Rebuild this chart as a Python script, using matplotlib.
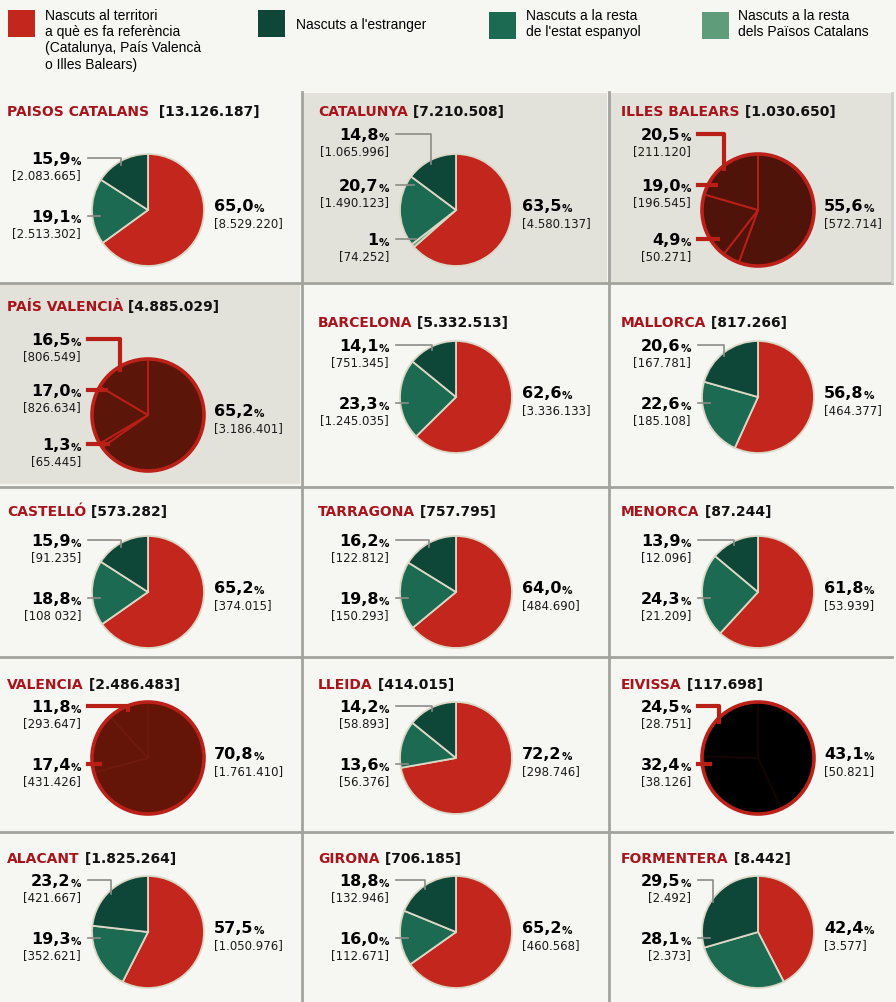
import numpy as np
import matplotlib
matplotlib.use('Agg')
import matplotlib.pyplot as plt
from matplotlib.patches import Rectangle, Circle

W, H = 896, 1002

# --- data ---
names = ['PAISOS CATALANS', 'CATALUNYA', 'ILLES BALEARS',
         'PAÍS VALENCIÀ', 'BARCELONA', 'MALLORCA',
         'CASTELLÓ', 'TARRAGONA', 'MENORCA',
         'VALENCIA', 'LLEIDA', 'EIVISSA',
         'ALACANT', 'GIRONA', 'FORMENTERA']
totals = ['13.126.187', '7.210.508', '1.030.650',
          '4.885.029', '5.332.513', '817.266',
          '573.282', '757.795', '87.244',
          '2.486.483', '414.015', '117.698',
          '1.825.264', '706.185', '8.442']

pct_local = [65.0, 63.5, 55.6, 65.2, 62.6, 56.8, 65.2, 64.0, 61.8, 70.8, 72.2, 43.1, 57.5, 65.2, 42.4]
pct_foreign = [15.9, 14.8, 20.5, 16.5, 14.1, 20.6, 15.9, 16.2, 13.9, 11.8, 14.2, 24.5, 23.2, 18.8, 29.5]
pct_spain = [19.1, 20.7, 19.0, 17.0, 23.3, 22.6, 18.8, 19.8, 24.3, 17.4, 13.6, 32.4, 19.3, 16.0, 28.1]
pct_ppcc = [0, 1, 4.9, 1.3, 0, 0, 0, 0, 0, 0, 0, 0, 0, 0, 0]

n_local = ['8.529.220', '4.580.137', '572.714', '3.186.401', '3.336.133', '464.377', '374.015', '484.690',
           '53.939', '1.761.410', '298.746', '50.821', '1.050.976', '460.568', '3.577']
n_foreign = ['2.083.665', '1.065.996', '211.120', '806.549', '751.345', '167.781', '91.235', '122.812',
             '12.096', '293.647', '58.893', '28.751', '421.667', '132.946', '2.492']
n_spain = ['2.513.302', '1.490.123', '196.545', '826.634', '1.245.035', '185.108', '108 032', '150.293',
           '21.209', '431.426', '56.376', '38.126', '352.621', '112.671', '2.373']
n_ppcc = ['', '74.252', '50.271', '65.445', '', '', '', '', '', '', '', '', '', '', '']

legend_labels = ["Nascuts al territori\na què es fa referència\n(Catalunya, País Valencà\no Illes Balears)",
                 "Nascuts a l'estranger",
                 "Nascuts a la resta\nde l'estat espanyol",
                 "Nascuts a la resta\ndels Països Catalans"]

# --- style ---
RED = '#c2261d'
DARK = '#0e4637'
MID = '#1d6a52'
LIGHT = '#5f9c79'
TITLE_RED = '#a8141b'
BG = '#f6f6f3'
SHADE = '#e3e2da'
GRID = '#a3a39e'
colors = [RED, LIGHT, MID, DARK]

# panels that came out dark in the scan: fill, colour of inner lines
scan_fill = {2: ('#4f130a', '#b81f17'), 3: ('#5c1509', '#b81f17'),
             9: ('#641508', '#6e1a0c'), 11: ('#000000', '#140404')}

col_cx = [148, 456, 758]
col_tx = [7, 318, 621]
row_cy = [210, 397, 592, 758, 932]
row_ty = [112, 323, 512, 685, 859]
R = 56


def fmt(v):
    if isinstance(v, int):
        return str(v)
    return f'{v:.1f}'.replace('.', ',')


fig = plt.figure(figsize=(W / 100, H / 100), dpi=100, facecolor=BG)
ax = fig.add_axes([0, 0, 1, 1])
ax.set_facecolor(BG)

# panel backgrounds and grid
ax.add_patch(Rectangle((303, 93), 304, 189, facecolor=SHADE, edgecolor='none', zorder=0))
ax.add_patch(Rectangle((610, 93), 282, 189, facecolor=SHADE, edgecolor='none', zorder=0))
ax.add_patch(Rectangle((0, 284), 300, 200, facecolor=SHADE, edgecolor='none', zorder=0))
for y in [283, 487, 657, 832]:
    ax.plot([0, 892], [y, y], color=GRID, lw=2, zorder=1)
for x in [302, 609]:
    ax.plot([x, x], [92, 1002], color=GRID, lw=2, zorder=1)
ax.plot([892, 892], [93, 282], color='#d0d0cc', lw=2, zorder=1)

# legend
leg_sq = [(8, 10), (258, 10), (489, 12), (702, 12)]
leg_tx = [45, 296, 526, 738]
leg_col = [RED, DARK, MID, LIGHT]
for i, lab in enumerate(legend_labels):
    sx, sy = leg_sq[i]
    ax.add_patch(Rectangle((sx, sy), 27, 27, facecolor=leg_col[i], edgecolor='none'))
    if i == 1:
        ax.text(leg_tx[i], 25, lab, fontsize=10, family='Liberation Sans', va='center', ha='left')
    else:
        ax.text(leg_tx[i], 9, lab, fontsize=10, family='Liberation Sans', va='top', ha='left',
                linespacing=1.2)


def pct_left(x, y, val, count):
    p = ax.text(x, y + 1, '%', fontsize=7.5, fontweight='bold', ha='right', va='baseline')
    ax.annotate(fmt(val), xy=(0, 0), xycoords=p, fontsize=11.5, fontweight='bold',
                ha='right', va='bottom')
    ax.text(x, y + 12, '[' + count + ']', fontsize=8.5, ha='right', va='center', color='#1a1a1a')


def pct_right(x, y, val, count):
    t = ax.text(x, y + 6, fmt(val), fontsize=11.5, fontweight='bold', ha='left', va='baseline')
    ax.annotate('%', xy=(1, 0), xycoords=t, fontsize=7.5, fontweight='bold',
                ha='left', va='bottom')
    ax.text(x, y + 19, '[' + count + ']', fontsize=8.5, ha='left', va='center', color='#1a1a1a')


for i in range(len(names)):
    row, col = divmod(i, 3)
    cx = col_cx[col]
    cy = row_cy[row]
    ty = row_ty[row]
    if i == 3:
        cy, ty = 415, 307

    # title
    t = ax.text(col_tx[col], ty, names[i], fontsize=10, fontweight='bold', color=TITLE_RED,
                ha='left', va='center')
    gap = '  ' if i == 0 else ' '
    ax.annotate(gap + '[' + totals[i] + ']', xy=(1, 0.5), xycoords=t, fontsize=10, fontweight='bold',
                color='#111111', ha='left', va='center')

    vals = [pct_local[i], pct_ppcc[i], pct_spain[i], pct_foreign[i]]
    keep = [k for k in range(4) if vals[k] > 0]
    sizes = [vals[k] for k in keep]
    if i in scan_fill:
        fill, inner = scan_fill[i]
        cols = [fill] * len(keep)
        wp = dict(edgecolor=inner, linewidth=1.4)
        lead_c, lead_w = '#b81f17', 3
    else:
        cols = [colors[k] for k in keep]
        wp = dict(edgecolor='#dcd8c6', linewidth=1.3)
        lead_c, lead_w = '#8c8c88', 1.2
    wedges, _ = ax.pie(sizes, colors=cols, center=(cx, cy), radius=R, startangle=-90,
                       counterclock=True, frame=True, wedgeprops=wp)
    if i in scan_fill:
        ax.add_patch(Circle((cx, cy), R, facecolor='none', edgecolor='#bc2119', lw=2.6, zorder=3))

    # left labels: foreign, spain, (ppcc)
    if pct_ppcc[i] > 0:
        left = [(3, -70, pct_foreign[i], n_foreign[i]), (2, -19, pct_spain[i], n_spain[i]),
                (1, 35, pct_ppcc[i], n_ppcc[i])]
    else:
        left = [(3, -46, pct_foreign[i], n_foreign[i]), (2, 12, pct_spain[i], n_spain[i])]
    lx = cx - 67
    for k, dy, v, c in left:
        ly = cy + dy - 6
        pct_left(lx, ly + 6, v, c)
        w = wedges[keep.index(k)]
        th = np.deg2rad((w.theta1 + w.theta2) / 2)
        px, py = cx + R * np.cos(th), cy + R * np.sin(th)
        if abs(ly - cy) < R * 0.85:
            ex = cx - np.sqrt(R ** 2 - (ly - cy) ** 2) + 8
            ax.plot([lx + 7, ex], [ly, ly], color=lead_c, lw=lead_w, zorder=3)
        else:
            ax.plot([lx + 7, px, px], [ly, ly, py + 4], color=lead_c, lw=lead_w, zorder=3)

    pct_right(cx + 66, cy - 5, pct_local[i], n_local[i])

ax.set_xlim(0, W)
ax.set_ylim(H, 0)
ax.set_aspect('auto')
ax.axis('off')
fig.savefig('out.png', dpi=100, facecolor=BG)
